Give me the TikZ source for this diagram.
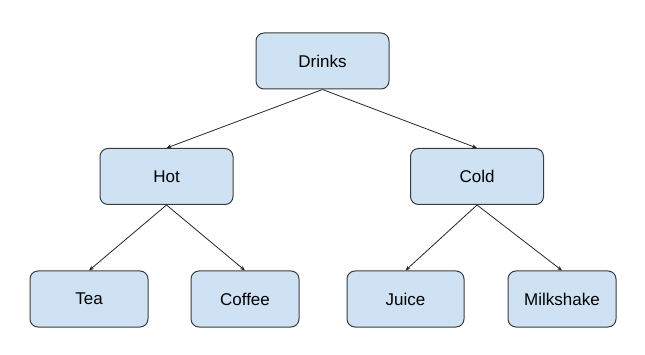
\documentclass[tikz,border=0pt]{standalone}
\usepackage{fontspec}
\setmainfont{Liberation Sans}
\usetikzlibrary{arrows.meta}
\definecolor{boxfill}{HTML}{CFE2F3}
\definecolor{boxline}{HTML}{3C3C3C}
\tikzset{
  box/.style={draw=boxline, fill=boxfill, line width=1pt, rounded corners=8pt,
    minimum height=56pt, inner sep=0pt, font=\fontsize{17}{20}\selectfont},
  link/.style={draw=black!85, line width=0.8pt, -{Stealth[length=5pt,width=4pt]}}
}
\begin{document}
\begin{tikzpicture}[x=1pt,y=-1pt]
\useasboundingbox (0,0) rectangle (645,355);
\node[box, minimum width=133pt] (drinks) at (322.5,61) {Drinks};
\node[box, minimum width=133pt] (hot) at (166.5,176.5) {Hot};
\node[box, minimum width=133pt] (cold) at (477,176.5) {Cold};
\node[box, minimum width=118pt] (tea) at (89,299) {Tea};
\node[box, minimum width=108pt] (coffee) at (245,299) {Coffee};
\node[box, minimum width=117pt] (juice) at (405.5,299) {Juice};
\node[box, minimum width=108pt] (milk) at (562,299) {Milkshake};
\draw[link] (drinks.south) -- (hot.north);
\draw[link] (drinks.south) -- (cold.north);
\draw[link] (hot.south) -- (tea.north);
\draw[link] (hot.south) -- (coffee.north);
\draw[link] (cold.south) -- (juice.north);
\draw[link] (cold.south) -- (milk.north);
\end{tikzpicture}
\end{document}
